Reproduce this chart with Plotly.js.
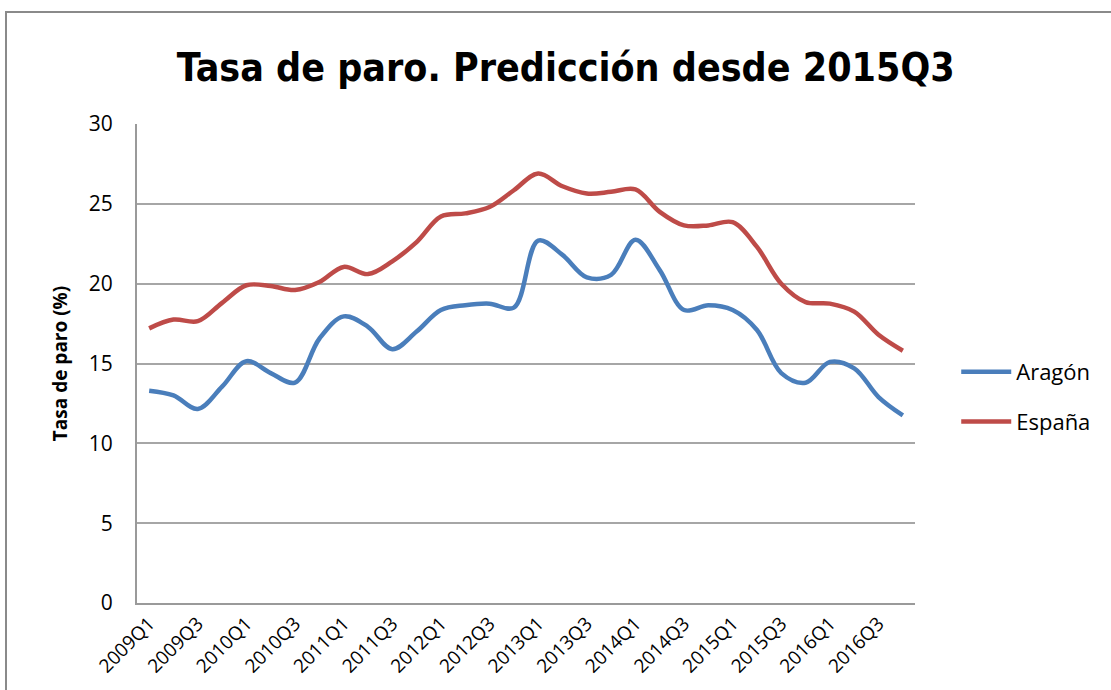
<!DOCTYPE html>
<html>
<head>
<meta charset="utf-8">
<script src="https://cdn.plot.ly/plotly-3.0.1.min.js"></script>
<style>
  html, body { margin: 0; padding: 0; background: #ffffff; overflow: hidden; }
  #chart { position: absolute; left: 0; top: 0; width: 1111px; height: 690px; }
  #frame { position: absolute; left: 5px; top: 11px; width: 1200px; height: 800px;
           border: 2px solid #8a8a8a; pointer-events: none; box-sizing: border-box; }
</style>
</head>
<body>
<div id="chart"></div>
<div id="frame"></div>
<script>
// Quarters 2009Q1 .. 2016Q4
const quarters = [
  "2009Q1","2009Q2","2009Q3","2009Q4",
  "2010Q1","2010Q2","2010Q3","2010Q4",
  "2011Q1","2011Q2","2011Q3","2011Q4",
  "2012Q1","2012Q2","2012Q3","2012Q4",
  "2013Q1","2013Q2","2013Q3","2013Q4",
  "2014Q1","2014Q2","2014Q3","2014Q4",
  "2015Q1","2015Q2","2015Q3","2015Q4",
  "2016Q1","2016Q2","2016Q3","2016Q4"
];
const tickLabels = ["2009Q1","2009Q3","2010Q1","2010Q3","2011Q1","2011Q3","2012Q1","2012Q3",
                    "2013Q1","2013Q3","2014Q1","2014Q3","2015Q1","2015Q3","2016Q1","2016Q3"];

const aragon = [13.3, 13.0, 12.15, 13.55, 15.15, 14.4, 13.8, 16.55,
                17.95, 17.3, 15.9, 17.0, 18.35, 18.65, 18.75, 18.5,
                22.7, 21.8, 20.4, 20.55, 22.75, 20.85, 18.35, 18.65,
                18.35, 17.1, 14.4, 13.8, 15.1, 14.7, 12.9, 11.75];

const espana = [17.2, 17.75, 17.65, 18.8, 19.9, 19.85, 19.6, 20.1,
                21.05, 20.6, 21.4, 22.6, 24.2, 24.4, 24.8, 25.85,
                26.9, 26.1, 25.65, 25.75, 25.9, 24.5, 23.65, 23.65,
                23.85, 22.3, 20.0, 18.85, 18.75, 18.25, 16.8, 15.8];

const seriesNames = ["Aragón", "España"];
const seriesColors = ["#4a7ebb", "#be4b48"];

const font = "Open Sans, Noto Sans, sans-serif";

const traces = [aragon, espana].map((vals, k) => ({
  type: "scatter",
  mode: "lines",
  x: quarters,
  y: vals,
  name: seriesNames[k],
  legendgroup: "g" + k,
  line: { color: seriesColors[k], width: 4.5, shape: "spline", smoothing: 1 },
  hoverinfo: "x+y+name"
}));

const layout = {
  width: 1111,
  height: 690,
  paper_bgcolor: "#ffffff",
  plot_bgcolor: "#ffffff",
  margin: { l: 137, r: 196, t: 124, b: 87 },
  showlegend: true,
  title: {
    text: "Tasa de paro. Predicción desde 2015Q3",
    font: { family: "DejaVu Sans Condensed, Open Sans, sans-serif", size: 39, color: "#000000", weight: "bold" },
    x: 0.551, xanchor: "center", xref: "paper",
    y: 0.903, yanchor: "middle", yref: "container"
  },
  xaxis: {
    type: "category",
    range: [-0.5, 31.5],
    tickmode: "array",
    tickvals: tickLabels,
    ticktext: tickLabels,
    tickangle: -45,
    tickfont: { family: font, size: 19, color: "#000000" },
    showgrid: false,
    showline: true,
    linecolor: "#9a9a9a",
    linewidth: 2,
    ticks: "",
    zeroline: false,
    fixedrange: true
  },
  yaxis: {
    range: [0, 30],
    tickmode: "array",
    tickvals: [0, 5, 10, 15, 20, 25, 30],
    ticktext: ["0", "5", "10", "15", "20", "25", "30"],
    tickfont: { family: font, size: 21, color: "#000000" },
    ticks: "",
    ticklen: 0,
    ticklabelstandoff: 18,
    showgrid: true,
    gridcolor: "#a6a6a6",
    gridwidth: 1.5,
    showline: true,
    linecolor: "#9a9a9a",
    linewidth: 2,
    zeroline: false,
    title: {
      text: "Tasa de paro (%)",
      font: { family: font, size: 19, color: "#000000", weight: "bold" },
      standoff: 16
    },
    fixedrange: true
  },
  legend: {
    x: 1.053, xanchor: "left",
    y: 0.43, yanchor: "middle",
    traceorder: "grouped",
    tracegroupgap: 18,
    font: { family: font, size: 22, color: "#000000" },
    bgcolor: "rgba(0,0,0,0)",
    itemwidth: 50
  }
};

Plotly.newPlot("chart", traces, layout, { displayModeBar: false, staticPlot: false });
</script>
</body>
</html>
